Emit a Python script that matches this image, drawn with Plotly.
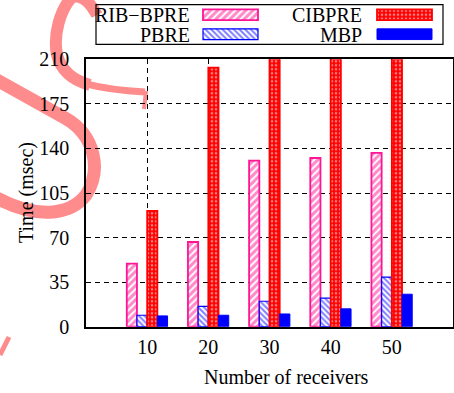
import plotly.graph_objects as go

# ---------------- data ----------------
receivers = [10, 20, 30, 40, 50]
rib_bpre = [49.5, 66.5, 130.5, 132.5, 136.5]
pbre = [9, 16, 20, 22.5, 39]
cibpre = [91, 203.5, 260, 320, 400]
mbp = [8.5, 9, 10, 14, 25.5]
series_names = ["RIB−BPRE", "PBRE", "CIBPRE", "MBP"]
y_ticks = [0, 35, 70, 105, 140, 175, 210]
x_title = "Number of receivers"
y_title = "Time (msec)"

series_values = [rib_bpre, pbre, cibpre, mbp]

# ---------------- layout helpers (figure pixels -> paper) ----------------
W, H = 454, 393
def fx(x):
    return x / W
def fy(y):
    return 1 - y / H

PLOT_L, PLOT_R, PLOT_T, PLOT_B = 86, 453, 59.3, 326.7
LEG_L, LEG_R, LEG_T, LEG_B = 96, 443, 4.7, 44.3

FONT = "Liberation Serif, Times New Roman, Times, serif"
PINK = "#ff1493"
BLUE = "#0000ff"
RED = "#ff0000"

styles = {
    "RIB−BPRE": dict(color="white", line=dict(color=PINK, width=1.8),
                     pattern=dict(shape="/", fgcolor=PINK, bgcolor="white",
                                  size=5, solidity=0.6, fillmode="overlay")),
    "PBRE": dict(color="white", line=dict(color=BLUE, width=1.2),
                 pattern=dict(shape="\\", fgcolor=BLUE, bgcolor="white",
                              size=4, solidity=0.5, fillmode="overlay")),
    "CIBPRE": dict(color=RED, line=dict(color=RED, width=1.8),
                   pattern=dict(shape=".", fgcolor="white", bgcolor=RED,
                                size=4, solidity=0.35, fillmode="overlay")),
    "MBP": dict(color=BLUE, line=dict(color=BLUE, width=1)),
}

fig = go.Figure()

for name, vals in zip(series_names, series_values):
    fig.add_trace(go.Bar(x=receivers, y=vals, name=name, marker=styles[name],
                         xaxis="x", yaxis="y", showlegend=False))

# ---------------- custom legend (gnuplot style: text then swatch) ----------------
row_y = [14.7, 34.2]
text_right = [192, 364]
swatch_x0 = [203, 377]
swatch_len = 55
swatch_h = 10.7
legend_slots = [(0, 0), (1, 0), (0, 1), (1, 1)]  # (row, col) per series

annotations = []
for name, (r, c) in zip(series_names, legend_slots):
    fig.add_trace(go.Bar(orientation="h", y=[row_y[r]], x=[swatch_len],
                         base=[swatch_x0[c]], width=[swatch_h], offset=-swatch_h / 2,
                         offsetgroup="legend", marker=styles[name],
                         xaxis="x2", yaxis="y2", showlegend=False, hoverinfo="skip"))
    annotations.append(dict(text=name, xref="paper", yref="paper", x=fx(text_right[c]),
                            y=fy(row_y[r] + 0.5),
                            xanchor="right", yanchor="middle", showarrow=False,
                            font=dict(family=FONT, size=20, color="black")))

annotations.append(dict(text=x_title, xref="paper", yref="paper", x=fx(286.5), y=fy(377),
                        xanchor="center", yanchor="middle", showarrow=False,
                        font=dict(family=FONT, size=20, color="black")))
annotations.append(dict(text=y_title, xref="paper", yref="paper", x=fx(26), y=fy(193),
                        xanchor="center", yanchor="middle", showarrow=False, textangle=-90,
                        font=dict(family=FONT, size=20, color="black")))

# decorative red swoosh strokes (ink marks in the reference)
def path(cmds):
    out = []
    for c in cmds:
        if isinstance(c, str):
            out.append(c)
        else:
            out.append(f"{fx(c[0]):.4f},{fy(c[1]):.4f}")
    return " ".join(out)

SW = "#ff8c8c"
shapes = [
    dict(type="path", xref="paper", yref="paper", layer="below",
         path=path(["M", (97, 15), "C", (90, 2), (82, -6), (72, -3),
                    "C", (60, 10), (53, 35), (57, 55),
                    "C", (61, 70), (72, 80), (90, 85)]),
         line=dict(color=SW, width=12)),
    dict(type="path", xref="paper", yref="paper", layer="below",
         path=path(["M", (86, 84), "C", (105, 89), (125, 91), (145, 92)]),
         line=dict(color=SW, width=7)),
    dict(type="path", xref="paper", yref="paper", layer="below",
         path=path(["M", (146, 91), "L", (144, 109)]),
         line=dict(color=SW, width=4)),
    dict(type="path", xref="paper", yref="paper", layer="below",
         path=path(["M", (-5, 79), "L", (65, 118),
                    "C", (95, 135), (102, 170), (86, 195),
                    "C", (70, 216), (35, 219), (-5, 197)]),
         line=dict(color=SW, width=13)),
    dict(type="path", xref="paper", yref="paper", layer="below",
         path=path(["M", (9, 337), "L", (0, 355)]),
         line=dict(color=SW, width=5)),
    dict(type="rect", xref="paper", yref="paper", x0=fx(LEG_L), x1=fx(LEG_R),
         y0=fy(LEG_B), y1=fy(LEG_T),
         line=dict(color="black", width=1.2), fillcolor="rgba(0,0,0,0)", layer="above"),
]

grid_common = dict(showgrid=True, gridcolor="black", gridwidth=1, griddash="5px,4px",
                   showline=True, linecolor="black", linewidth=1.5, mirror=True,
                   ticks="", zeroline=False, fixedrange=True, automargin=False,
                   tickfont=dict(family=FONT, size=20, color="black"))

fig.update_layout(
    template="none",
    width=W, height=H,
    margin=dict(l=0, r=0, t=0, b=0, pad=0, autoexpand=False),
    paper_bgcolor="white", plot_bgcolor="rgba(0,0,0,0)",
    font=dict(family=FONT, size=20, color="black"),
    barmode="group", bargap=1 / 3, bargroupgap=0,
    xaxis=dict(domain=[fx(PLOT_L), fx(PLOT_R)], range=[0, 60], tickvals=receivers,
               anchor="y", ticklabelstandoff=2, **grid_common),
    yaxis=dict(domain=[fy(PLOT_B), fy(PLOT_T)], range=[0, 210], tickvals=y_ticks,
               anchor="x", ticklabelstandoff=11, **grid_common),
    xaxis2=dict(domain=[fx(LEG_L), fx(LEG_R)], range=[LEG_L, LEG_R], visible=False,
                anchor="y2", fixedrange=True, automargin=False),
    yaxis2=dict(domain=[fy(LEG_B), fy(LEG_T)], range=[LEG_B, LEG_T], visible=False,
                anchor="x2", fixedrange=True, automargin=False),
    annotations=annotations,
    shapes=shapes,
    showlegend=False,
)

fig.write_html("out.html", config={"displayModeBar": False},
               post_script="document.body.style.margin='0';document.body.style.padding='0';")
